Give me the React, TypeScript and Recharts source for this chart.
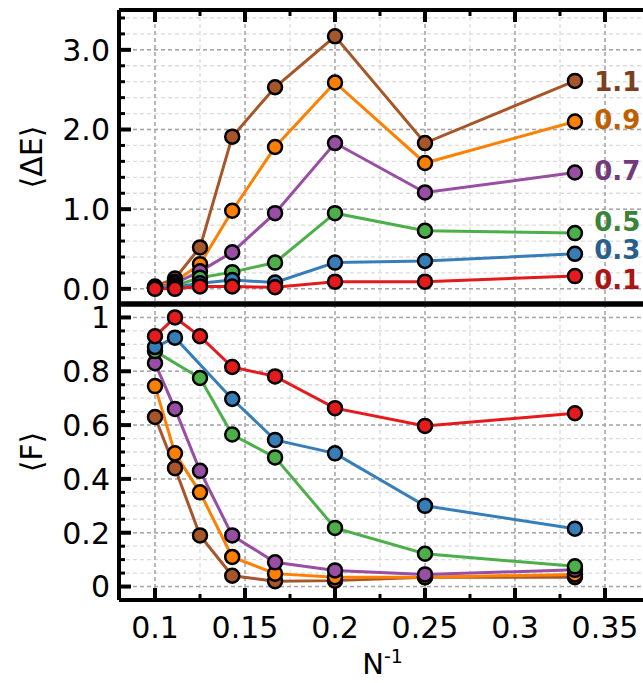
import React from "react";
import { CartesianGrid, Label, Line, LineChart, ReferenceDot, XAxis, YAxis } from "recharts";

const nInv = [0.1, 0.1111, 0.125, 0.1429, 0.1667, 0.2, 0.25, 0.3333];

// <ΔE> per coupling
const energy11 = [0.03, 0.13, 0.52, 1.91, 2.53, 3.17, 1.83, 2.61];
const energy09 = [0.02, 0.09, 0.31, 0.98, 1.78, 2.59, 1.58, 2.1];
const energy07 = [0.01, 0.07, 0.22, 0.46, 0.95, 1.83, 1.21, 1.46];
const energy05 = [0.01, 0.04, 0.14, 0.21, 0.33, 0.95, 0.73, 0.7];
const energy03 = [0.01, 0.02, 0.07, 0.11, 0.08, 0.33, 0.35, 0.44];
const energy01 = [0.0, 0.0, 0.03, 0.03, 0.02, 0.09, 0.09, 0.16];

// <F> per coupling
const fid11 = [0.63, 0.44, 0.19, 0.04, 0.02, 0.022, 0.035, 0.035];
const fid09 = [0.745, 0.495, 0.35, 0.11, 0.048, 0.035, 0.035, 0.045];
const fid07 = [0.83, 0.66, 0.43, 0.19, 0.09, 0.06, 0.045, 0.062];
const fid05 = [0.875, null, 0.775, 0.565, 0.48, 0.218, 0.122, 0.075];
const fid03 = [0.89, 0.925, null, 0.697, 0.545, 0.495, 0.3, 0.215];
const fid01 = [0.93, 1.0, 0.93, 0.816, 0.781, 0.663, 0.597, 0.644];

const seriesNames = ["1.1", "0.9", "0.7", "0.5", "0.3", "0.1"];
const seriesColors = ["#a65628", "#ff7f00", "#984ea3", "#4daf4a", "#377eb8", "#e41a1c"];
const labelColors = ["#7c401e", "#bf5f00", "#723a7a", "#3a8337", "#295f8a", "#ab1315"];
const labelX = 0.344;
const labelY = [2.6, 2.12, 1.49, 0.84, 0.49, 0.11];

const xTicks = [0.1, 0.125, 0.15, 0.175, 0.2, 0.225, 0.25, 0.275, 0.3, 0.325, 0.35];
const xMajor = [0.1, 0.15, 0.2, 0.25, 0.3, 0.35];
const eTicks = [0, 0.2, 0.4, 0.6, 0.8, 1, 1.2, 1.4, 1.6, 1.8, 2, 2.2, 2.4, 2.6, 2.8, 3, 3.2, 3.4];
const eMajor = [0, 1, 2, 3];
const fTicks = [
  0, 0.05, 0.1, 0.15, 0.2, 0.25, 0.3, 0.35, 0.4, 0.45, 0.5, 0.55, 0.6, 0.65, 0.7, 0.75, 0.8, 0.85, 0.9, 0.95, 1,
];
const fMajor = [0, 0.2, 0.4, 0.6, 0.8, 1];

const energySets = [energy11, energy09, energy07, energy05, energy03, energy01];
const fidSets = [fid11, fid09, fid07, fid05, fid03, fid01];
const keys = seriesNames.map((_, i) => `s${i}`);

const energyRows = nInv.map((x, i) => {
  const row: Record<string, number | null> = { x };
  keys.forEach((k, s) => (row[k] = energySets[s][i]));
  return row;
});
const fidRows = nInv.map((x, i) => {
  const row: Record<string, number | null> = { x };
  keys.forEach((k, s) => (row[k] = fidSets[s][i]));
  return row;
});

const FONT = "'DejaVu Sans', 'Bitstream Vera Sans', sans-serif";
const X_DOMAIN: [number, number] = [0.08, 0.375];
const isIn = (v: number, list: number[]) => list.some((m) => Math.abs(m - v) < 1e-6);

// ticks point into the plot; p.y sits on the axis line (tickSize/tickMargin are 0)
const xTick = (dir: 1 | -1, showLabel: boolean) => (p: any) => {
  const v = p.payload.value;
  const major = isIn(v, xMajor);
  const len = major ? 12 : 6;
  return (
    <g>
      <line x1={p.x} x2={p.x} y1={p.y} y2={p.y + dir * len} stroke="#000" strokeWidth={major ? 4 : 3} />
      {showLabel && major && (
        <text x={p.x} y={p.y + 38} textAnchor="middle" fontSize={30} fontFamily={FONT} fill="#000">
          {String(v)}
        </text>
      )}
    </g>
  );
};

const noTick = () => <g />;

const yTick = (majors: number[], fmt: (v: number) => string) => (p: any) => {
  const v = p.payload.value;
  const major = isIn(v, majors);
  const len = major ? 12 : 6;
  return (
    <g>
      <line x1={p.x} x2={p.x + len} y1={p.y} y2={p.y} stroke="#000" strokeWidth={major ? 4 : 3} />
      {major && (
        <text x={p.x - 9} y={p.y} dy="0.36em" textAnchor="end" fontSize={30} fontFamily={FONT} fill="#000">
          {fmt(v)}
        </text>
      )}
    </g>
  );
};

const yTitle = (text: string) => (props: any) => {
  const vb = props.viewBox || { x: 0, y: 0, width: 0, height: 0 };
  const cx = 31;
  const cy = vb.y + vb.height / 2;
  return (
    <text
      x={cx}
      y={cy}
      transform={`rotate(-90 ${cx} ${cy})`}
      textAnchor="middle"
      dominantBaseline="central"
      fontSize={30}
      fontFamily={FONT}
      fill="#000"
    >
      {text}
    </text>
  );
};

const xTitle = (props: any) => {
  const vb = props.viewBox || { x: 0, y: 0, width: 0, height: 0 };
  return (
    <text x={vb.x + vb.width / 2 - 2} y={vb.y + 74} textAnchor="middle" fontSize={29} fontFamily={FONT} fill="#000">
      <tspan>N</tspan>
      <tspan dy={-11} fontSize={19}>
        -1
      </tspan>
    </text>
  );
};

const grids = (yMinor: number[], yMajor: number[]) => [
  <CartesianGrid
    key="minor"
    stroke="#dcdcdc"
    strokeWidth={1.3}
    strokeDasharray="4 3"
    verticalValues={xTicks}
    horizontalValues={yMinor}
  />,
  <CartesianGrid
    key="major"
    stroke="#a8a8a8"
    strokeWidth={1.5}
    strokeDasharray="4 3"
    verticalValues={xMajor}
    horizontalValues={yMajor}
  />,
];

const lines = () =>
  keys.map((k, i) => (
    <Line
      key={k}
      dataKey={k}
      name={seriesNames[i]}
      stroke={seriesColors[i]}
      strokeWidth={3}
      connectNulls
      dot={{ r: 7, fill: seriesColors[i], stroke: "#000", strokeWidth: 2.5 }}
      activeDot={false}
      isAnimationActive={false}
    />
  ));

export default function App() {
  return (
    <div style={{ position: "absolute", left: 0, top: 0, width: 643, height: 683, overflow: "hidden", background: "#fff" }}>
      <div style={{ position: "absolute", left: 0, top: 294, zIndex: 1 }}>
        <LineChart width={660} height={389} data={fidRows} margin={{ top: 9, right: 10, bottom: 0, left: 0 }}>
          {grids(fTicks, fMajor)}
          <XAxis
            dataKey="x"
            type="number"
            domain={X_DOMAIN}
            ticks={xTicks}
            interval={0}
            height={83}
            tickSize={0}
            tickMargin={0}
            tickLine={false}
            axisLine={{ stroke: "#000", strokeWidth: 4 }}
            tick={xTick(-1, true)}
          >
            <Label content={xTitle} />
          </XAxis>
          <XAxis
            xAxisId="top"
            orientation="top"
            dataKey="x"
            type="number"
            domain={X_DOMAIN}
            ticks={xTicks}
            interval={0}
            height={1}
            tickSize={0}
            tickMargin={0}
            tickLine={false}
            axisLine={{ stroke: "#000", strokeWidth: 5 }}
            tick={noTick}
          />
          <YAxis
            type="number"
            domain={[-0.05, 1.05]}
            ticks={fTicks}
            interval={0}
            width={119}
            tickSize={0}
            tickMargin={0}
            tickLine={false}
            axisLine={{ stroke: "#000", strokeWidth: 4 }}
            tick={yTick(fMajor, (v) => String(v))}
          >
            <Label content={yTitle("⟨F⟩")} />
          </YAxis>
          {lines()}
        </LineChart>
      </div>
      <div style={{ position: "absolute", left: 0, top: 0, zIndex: 2 }}>
        <LineChart width={660} height={314} data={energyRows} margin={{ top: 9, right: 10, bottom: 9, left: 0 }}>
          {grids(eTicks, eMajor)}
          <XAxis
            dataKey="x"
            type="number"
            domain={X_DOMAIN}
            ticks={xTicks}
            interval={0}
            height={1}
            tickSize={0}
            tickMargin={0}
            tickLine={false}
            axisLine={{ stroke: "#000", strokeWidth: 5 }}
            tick={noTick}
          />
          <XAxis
            xAxisId="top"
            orientation="top"
            dataKey="x"
            type="number"
            domain={X_DOMAIN}
            ticks={xTicks}
            interval={0}
            height={1}
            tickSize={0}
            tickMargin={0}
            tickLine={false}
            axisLine={{ stroke: "#000", strokeWidth: 4 }}
            tick={xTick(1, false)}
          />
          <YAxis
            type="number"
            domain={[-0.19, 3.5]}
            ticks={eTicks}
            interval={0}
            width={119}
            tickSize={0}
            tickMargin={0}
            tickLine={false}
            axisLine={{ stroke: "#000", strokeWidth: 4 }}
            tick={yTick(eMajor, (v) => v.toFixed(1))}
          >
            <Label content={yTitle("⟨ΔE⟩")} />
          </YAxis>
          {lines()}
          {seriesNames.map((name, i) => (
            <ReferenceDot
              key={name}
              x={labelX}
              y={labelY[i]}
              r={0}
              shape={(p: any) => (
                <text
                  x={p.cx}
                  y={p.cy}
                  dy="0.36em"
                  fontSize={26}
                  fontWeight="bold"
                  fontFamily={FONT}
                  fill={labelColors[i]}
                >
                  {name}
                </text>
              )}
            />
          ))}
        </LineChart>
      </div>
    </div>
  );
}
